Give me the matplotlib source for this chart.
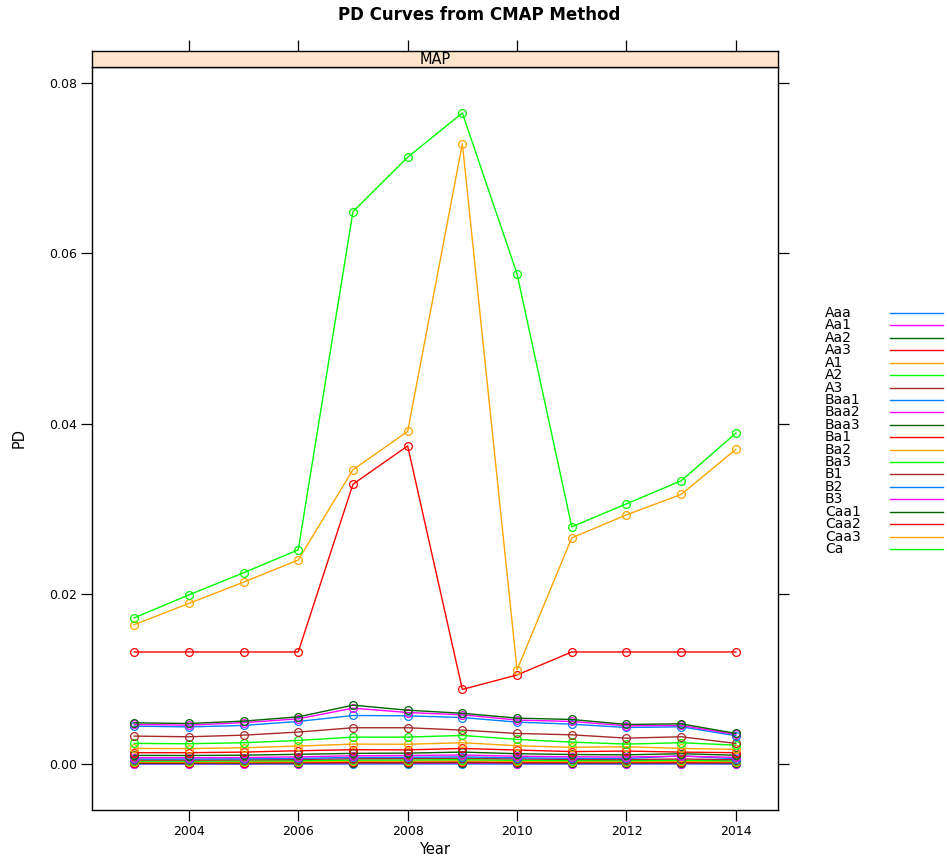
import matplotlib
matplotlib.use("Agg")
import matplotlib.pyplot as plt
from matplotlib.lines import Line2D

plt.rcParams['font.family'] = ['DejaVu Sans']

years = list(range(2003, 2015))

ratings = ["Aaa", "Aa1", "Aa2", "Aa3", "A1", "A2", "A3",
           "Baa1", "Baa2", "Baa3", "Ba1", "Ba2", "Ba3",
           "B1", "B2", "B3", "Caa1", "Caa2", "Caa3", "Ca"]

pd_aaa  = [0.00003, 0.00003, 0.00003, 0.00004, 0.00005, 0.00005, 0.00005, 0.00004, 0.00004, 0.00004, 0.00005, 0.00004]
pd_aa1  = [0.00008, 0.00008, 0.00008, 0.00009, 0.00011, 0.00011, 0.00012, 0.00010, 0.00009, 0.00009, 0.00010, 0.00009]
pd_aa2  = [0.00014, 0.00014, 0.00014, 0.00016, 0.00019, 0.00019, 0.00021, 0.00018, 0.00016, 0.00016, 0.00018, 0.00016]
pd_aa3  = [0.00020, 0.00020, 0.00021, 0.00023, 0.00027, 0.00028, 0.00030, 0.00026, 0.00024, 0.00023, 0.00026, 0.00023]
pd_a1   = [0.00028, 0.00028, 0.00029, 0.00032, 0.00037, 0.00038, 0.00041, 0.00036, 0.00033, 0.00032, 0.00036, 0.00031]
pd_a2   = [0.00038, 0.00038, 0.00039, 0.00043, 0.00050, 0.00051, 0.00055, 0.00048, 0.00044, 0.00043, 0.00048, 0.00041]
pd_a3   = [0.00050, 0.00050, 0.00052, 0.00057, 0.00066, 0.00068, 0.00072, 0.00063, 0.00058, 0.00056, 0.00063, 0.00054]
pd_baa1 = [0.00062, 0.00062, 0.00064, 0.00070, 0.00081, 0.00083, 0.00088, 0.00077, 0.00071, 0.00069, 0.00100, 0.00066]
pd_baa2 = [0.00078, 0.00078, 0.00080, 0.00088, 0.00101, 0.00104, 0.00110, 0.00096, 0.00089, 0.00086, 0.00096, 0.00082]
pd_baa3 = [0.00105, 0.00104, 0.00108, 0.00118, 0.00129, 0.00132, 0.00144, 0.00125, 0.00116, 0.00112, 0.00125, 0.00107]
pd_ba1  = [0.00137, 0.00137, 0.00144, 0.00160, 0.00172, 0.00170, 0.00187, 0.00168, 0.00150, 0.00156, 0.00144, 0.00137]
pd_ba2  = [0.00187, 0.00185, 0.00195, 0.00215, 0.00238, 0.00236, 0.00254, 0.00219, 0.00200, 0.00207, 0.00187, 0.00176]
pd_ba3  = [0.00246, 0.00242, 0.00254, 0.00281, 0.00320, 0.00320, 0.00340, 0.00293, 0.00261, 0.00238, 0.00254, 0.00226]
pd_b1   = [0.00332, 0.00324, 0.00343, 0.00379, 0.00430, 0.00430, 0.00402, 0.00363, 0.00347, 0.00308, 0.00324, 0.00246]
pd_b2   = [0.00449, 0.00440, 0.00457, 0.00504, 0.00574, 0.00570, 0.00550, 0.00496, 0.00472, 0.00433, 0.00441, 0.00336]
pd_b3   = [0.00469, 0.00460, 0.00490, 0.00535, 0.00660, 0.00609, 0.00582, 0.00520, 0.00504, 0.00453, 0.00457, 0.00351]
pd_caa1 = [0.00488, 0.00480, 0.00508, 0.00558, 0.00695, 0.00636, 0.00600, 0.00543, 0.00527, 0.00469, 0.00476, 0.00363]
pd_caa2 = [0.01320, 0.01320, 0.01320, 0.01320, 0.03290, 0.03740, 0.00880, 0.01050, 0.01320, 0.01320, 0.01320, 0.01320]
pd_caa3 = [0.01640, 0.01890, 0.02140, 0.02400, 0.03460, 0.03910, 0.07290, 0.01110, 0.02660, 0.02930, 0.03170, 0.03700]
pd_ca   = [0.01720, 0.01990, 0.02250, 0.02520, 0.06490, 0.07130, 0.07650, 0.05760, 0.02790, 0.03060, 0.03330, 0.03890]

series = [pd_aaa, pd_aa1, pd_aa2, pd_aa3, pd_a1, pd_a2, pd_a3,
          pd_baa1, pd_baa2, pd_baa3, pd_ba1, pd_ba2, pd_ba3,
          pd_b1, pd_b2, pd_b3, pd_caa1, pd_caa2, pd_caa3, pd_ca]

palette = ["#0080ff", "#ff00ff", "#006400", "#ff0000", "#ffa500", "#00ff00", "#a52a2a"]

W, H = 947, 860
fig = plt.figure(figsize=(W / 100, H / 100), dpi=100)


def box(x0, y0, x1, y1):
    return [x0 / W, 1 - y1 / H, (x1 - x0) / W, (y1 - y0) / H]


ax = fig.add_axes(box(92, 67, 778, 810))
strip = fig.add_axes(box(92, 51, 778, 67), sharex=ax)

for i, (name, vals) in enumerate(zip(ratings, series)):
    col = palette[i % len(palette)]
    ax.plot(years, vals, color=col, lw=1.0, marker='o', markersize=5.6,
            markerfacecolor='none', markeredgecolor=col, markeredgewidth=0.9)

ax.set_xlim(2002.23, 2014.77)
ax.set_ylim(-0.00536, 0.0819)
ax.set_xticks([2004, 2006, 2008, 2010, 2012, 2014])
ax.set_yticks([0.00, 0.02, 0.04, 0.06, 0.08])
ax.set_yticklabels(["0.00", "0.02", "0.04", "0.06", "0.08"])
ax.tick_params(axis='both', direction='out', length=8, width=0.9,
               labelsize=9, pad=3, right=True, labelright=False,
               top=False, bottom=True)
for sp in ax.spines.values():
    sp.set_linewidth(1.0)

ax.set_xlabel("Year", fontsize=10.5, labelpad=3)
ax.set_ylabel("PD", fontsize=10.5, labelpad=16)

strip.set_facecolor("#ffe5cc")
strip.set_yticks([])
strip.tick_params(axis='x', direction='out', length=8, width=0.9,
                  top=True, bottom=False, labeltop=False, labelbottom=False)
for sp in strip.spines.values():
    sp.set_linewidth(1.0)
strip.text(0.5, 0.45, "MAP", transform=strip.transAxes, ha='center',
           va='center', fontsize=10.5)

fig.text(479 / W, 1 - 15 / H, "PD Curves from CMAP Method", ha='center',
         va='center', fontsize=12, fontweight='bold')

# key on the right: labels and line samples
y_first, y_step = 313, 12.42
for i, name in enumerate(ratings):
    yy = 1 - (y_first + i * y_step) / H
    fig.text(825 / W, yy, name, ha='left', va='center', fontsize=10)
    fig.add_artist(Line2D([890 / W, 943 / W], [yy, yy],
                          color=palette[i % len(palette)], lw=1.0,
                          transform=fig.transFigure))

fig.savefig("out.png", dpi=100)
